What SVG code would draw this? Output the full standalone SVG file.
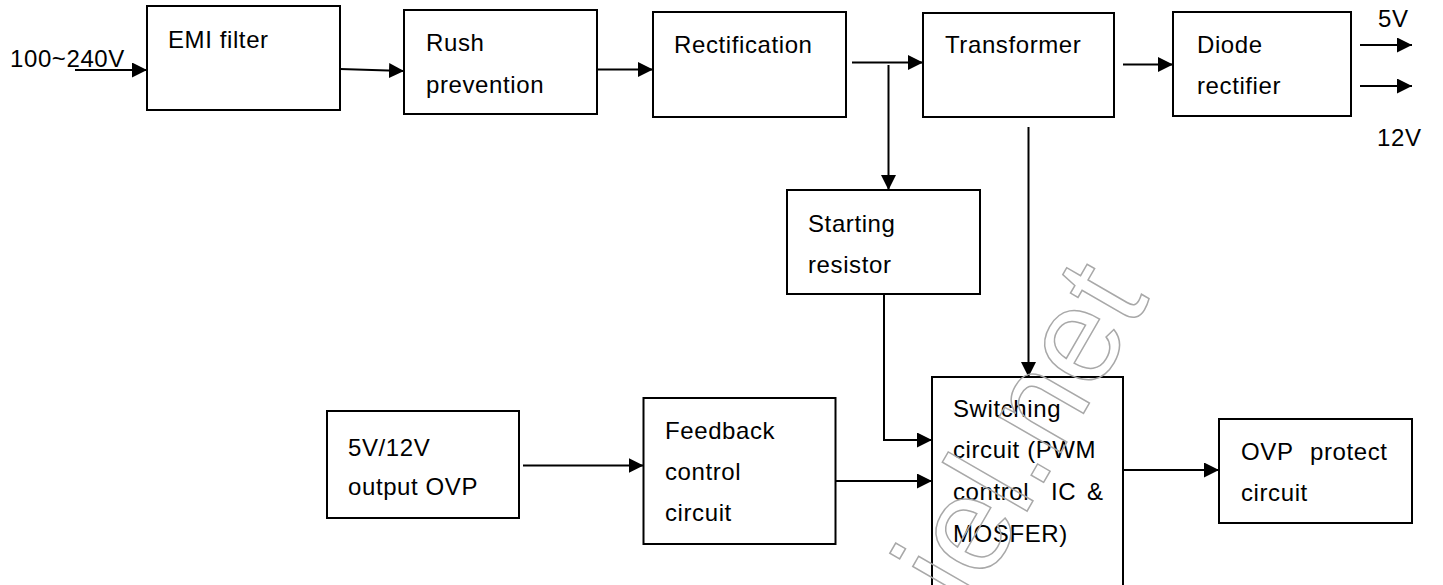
<svg xmlns="http://www.w3.org/2000/svg" width="1443" height="585" viewBox="0 0 1443 585">
  <style>
    .box { fill: #fff; stroke: #000; stroke-width: 2; }
    .lbl { font-family: "Liberation Sans", Arial, sans-serif; font-size: 24px; letter-spacing: 0.6px; fill: #000; }
    .wire { fill: none; stroke: #000; stroke-width: 2; }
    .arr { marker-end: url(#head); }
    .wm { font-family: "Liberation Sans", Arial, sans-serif; font-size: 135px; fill: none; stroke: #a8a8a8; stroke-width: 1.5; }
  </style>
  <defs>
    <marker id="head" markerUnits="userSpaceOnUse" markerWidth="16" markerHeight="16" refX="15" refY="7.5" orient="auto">
      <path d="M0,0 L15,7.5 L0,15 Z" fill="#000"/>
    </marker>
  </defs>
  <rect width="1443" height="585" fill="#fff"/>

  <!-- power path blocks -->
  <g id="emi-filter">
    <rect class="box" x="147" y="6" width="193" height="104"/>
    <text class="lbl" x="168" y="48">EMI filter</text>
  </g>
  <g id="rush-prevention">
    <rect class="box" x="404" y="10" width="193" height="104"/>
    <text class="lbl" x="426" y="51">Rush</text>
    <text class="lbl" x="426" y="93">prevention</text>
  </g>
  <g id="rectification">
    <rect class="box" x="653" y="12" width="193" height="105"/>
    <text class="lbl" x="674" y="53">Rectification</text>
  </g>
  <g id="transformer">
    <rect class="box" x="923" y="13" width="191" height="104"/>
    <text class="lbl" x="945" y="53">Transformer</text>
  </g>
  <g id="diode-rectifier">
    <rect class="box" x="1173" y="12" width="178" height="104"/>
    <text class="lbl" x="1197" y="53">Diode</text>
    <text class="lbl" x="1197" y="94">rectifier</text>
  </g>
  <g id="starting-resistor">
    <rect class="box" x="787" y="190" width="193" height="104"/>
    <text class="lbl" x="808" y="232">Starting</text>
    <text class="lbl" x="808" y="273">resistor</text>
  </g>

  <!-- control loop blocks -->
  <g id="output-ovp">
    <rect class="box" x="327" y="411" width="192" height="107"/>
    <text class="lbl" x="348" y="456">5V/12V</text>
    <text class="lbl" x="348" y="495">output OVP</text>
  </g>
  <g id="feedback-control">
    <rect class="box" x="643.5" y="398" width="192" height="146"/>
    <text class="lbl" x="665" y="439">Feedback</text>
    <text class="lbl" x="665" y="480">control</text>
    <text class="lbl" x="665" y="521">circuit</text>
  </g>
  <g id="switching-circuit">
    <rect class="box" x="932" y="377" width="191" height="240"/>
    <text class="lbl" x="953" y="417">Switching</text>
    <text class="lbl" x="953" y="458">circuit (PWM</text>
    <text class="lbl" y="500"><tspan x="953">control</tspan><tspan x="1051">IC</tspan><tspan x="1087">&amp;</tspan></text>
    <text class="lbl" x="953" y="542">MOSFER)</text>
  </g>
  <g id="ovp-protect">
    <rect class="box" x="1219" y="419" width="193" height="104"/>
    <text class="lbl" y="460"><tspan x="1241">OVP</tspan><tspan x="1310">protect</tspan></text>
    <text class="lbl" x="1241" y="501">circuit</text>
  </g>

  <!-- terminal labels -->
  <g id="terminals">
    <text class="lbl" x="10" y="67">100~240V</text>
    <text class="lbl" x="1378" y="27">5V</text>
    <text class="lbl" x="1377" y="146">12V</text>
  </g>

  <g id="connectors">
    <path class="wire arr" d="M75,70 H147"/>
    <path class="wire arr" d="M340,69 L404,71"/>
    <path class="wire arr" d="M597,69.5 H653"/>
    <path class="wire arr" d="M852,62.5 H923"/>
    <path class="wire arr" d="M888.5,65 V190"/>
    <path class="wire arr" d="M1123,64.5 H1173"/>
    <path class="wire arr" d="M1360,45 H1412"/>
    <path class="wire arr" d="M1360,86 H1412"/>
    <path class="wire arr" d="M1028.5,127 V377"/>
    <path class="wire arr" d="M884,294 V440 H932"/>
    <path class="wire arr" d="M836,481 H932"/>
    <path class="wire arr" d="M523,465.5 H643.5"/>
    <path class="wire arr" d="M1123,470 H1219"/>
  </g>

  <!-- faint outlined site mark -->
  <text class="wm" transform="translate(970,610) rotate(-60)">iel.net</text>
</svg>
